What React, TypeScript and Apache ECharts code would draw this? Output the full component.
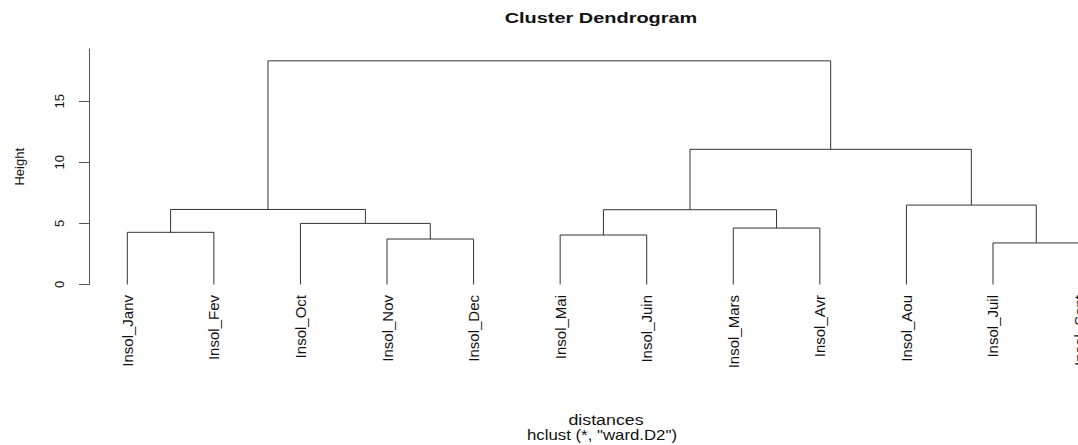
import React, { useEffect, useRef } from "react";
import * as echarts from "echarts";

// Leaves, in the order the dendrogram draws them
const leafLabels = [
  "Insol_Janv", "Insol_Fev", "Insol_Oct", "Insol_Nov", "Insol_Dec", "Insol_Mai",
  "Insol_Juin", "Insol_Mars", "Insol_Avr", "Insol_Aou", "Insol_Juil", "Insol_Sept",
];
// Merge table (R hclust style): negative = leaf (1-based, plotted order), positive = earlier merge (1-based)
const mergeLeft = [-11, -4, -6, -1, -8, -3, 3, 4, -10, 7, 8];
const mergeRight = [-12, -5, -7, -2, -9, 2, 5, 6, 1, 9, 10];
const mergeHeight = [3.4, 3.72, 4.05, 4.27, 4.62, 5.0, 6.12, 6.14, 6.5, 11.06, 18.3];
const yTicks = [0, 5, 10, 15];
const yMax = 19.27;
const xMin = -0.4424;
const xMax = 11.005;

const titleText = "Cluster Dendrogram";
const xTitle = "distances";
const subTitle = 'hclust (*, "ward.D2")';
const yTitle = "Height";

function nodeX(ref: number): number {
  if (ref < 0) return -ref - 1;
  const k = ref - 1;
  return (nodeX(mergeLeft[k]) + nodeX(mergeRight[k])) / 2;
}
function nodeH(ref: number): number {
  return ref < 0 ? 0 : mergeHeight[ref - 1];
}

export default function App() {
  const ref = useRef<HTMLDivElement>(null);
  useEffect(() => {
    if (!ref.current) return;
    const chart = echarts.init(ref.current, undefined, { renderer: "svg" });
    const data = mergeHeight.map((h, k) => [
      (nodeX(mergeLeft[k]) + nodeX(mergeRight[k])) / 2,
      h,
      nodeX(mergeLeft[k]),
      nodeH(mergeLeft[k]),
      nodeX(mergeRight[k]),
      nodeH(mergeRight[k]),
    ]);
    const font = "Liberation Sans, Arial, sans-serif";
    chart.setOption({
      animation: false,
      backgroundColor: "#ffffff",
      grid: {
        left: 89,
        right: -2,
        top: 49,
        bottom: 160.5,
        containLabel: false,
        outerBoundsMode: "none",
      },
      xAxis: {
        type: "value",
        min: xMin,
        max: xMax,
        axisLine: { show: false, onZero: false },
        axisTick: { show: false },
        splitLine: { show: false },
        axisLabel: {
          rotate: 90,
          margin: 10.5,
          fontFamily: font,
          fontSize: 15,
          color: "#111",
          customValues: leafLabels.map((_, i) => i),
          formatter: (v: number) => leafLabels[Math.round(v)] ?? "",
        },
      },
      yAxis: {
        type: "value",
        min: 0,
        max: yMax,
        name: yTitle,
        nameLocation: "middle",
        nameRotate: 90,
        nameGap: 63,
        nameTextStyle: { fontFamily: font, fontSize: 13, color: "#111" },
        axisLine: { show: true, onZero: false, lineStyle: { color: "#555", width: 1 } },
        axisTick: { show: true, length: 10, lineStyle: { color: "#555" }, customValues: yTicks },
        splitLine: { show: false },
        axisLabel: {
          rotate: 90,
          margin: 23.5,
          fontFamily: font,
          fontSize: 13,
          color: "#111",
          customValues: yTicks,
        },
      },
      graphic: [
        {
          type: "text",
          x: 601,
          y: 17.5,
          scaleX: 1.33,
          style: {
            text: titleText,
            font: `bold 15px ${font}`,
            fill: "#111",
            align: "center",
            verticalAlign: "middle",
            textAlign: "center",
            textVerticalAlign: "middle",
          },
        },
        {
          type: "text",
          x: 606,
          y: 420,
          scaleX: 1.27,
          style: {
            text: xTitle,
            font: `14px ${font}`,
            fill: "#111",
            align: "center",
            verticalAlign: "middle",
            textAlign: "center",
            textVerticalAlign: "middle",
          },
        },
        {
          type: "text",
          x: 602,
          y: 435,
          scaleX: 1.2,
          style: {
            text: subTitle,
            font: `14px ${font}`,
            fill: "#111",
            align: "center",
            verticalAlign: "middle",
            textAlign: "center",
            textVerticalAlign: "middle",
          },
        },
      ],
      series: [
        {
          type: "custom",
          coordinateSystem: "cartesian2d",
          encode: { x: [0, 2, 4], y: [1, 3, 5] },
          clip: false,
          data,
          renderItem: (_params: any, api: any) => {
            const p0 = api.coord([api.value(2), api.value(3)]);
            const p1 = api.coord([api.value(2), api.value(1)]);
            const p2 = api.coord([api.value(4), api.value(1)]);
            const p3 = api.coord([api.value(4), api.value(5)]);
            return {
              type: "polyline",
              shape: { points: [p0, p1, p2, p3] },
              style: { stroke: "#333", lineWidth: 1, fill: "none" },
            };
          },
        },
      ],
    });
    return () => chart.dispose();
  }, []);
  return (
    <div
      ref={ref}
      style={{ position: "absolute", left: 0, top: 0, width: 1078, height: 445, background: "#fff" }}
    />
  );
}
